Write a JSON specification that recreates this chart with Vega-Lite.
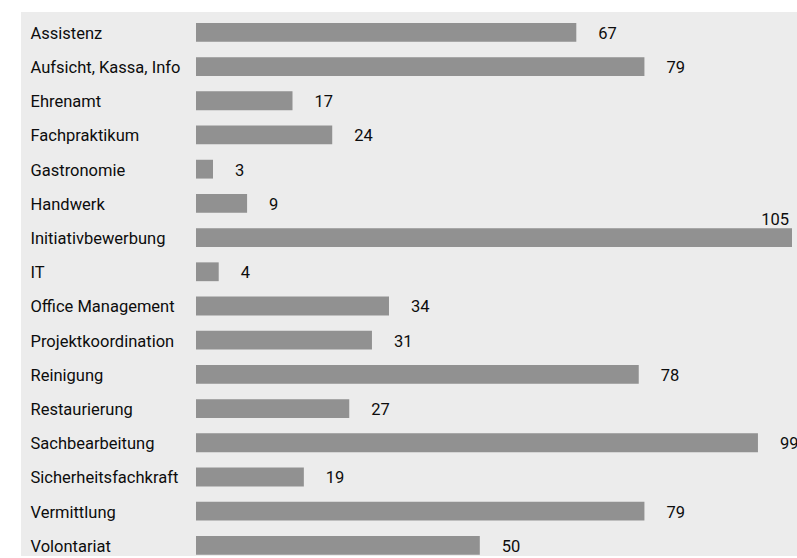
{
  "$schema": "https://vega.github.io/schema/vega-lite/v6.json",
  "width": 776,
  "height": 544,
  "autosize": {"type": "none"},
  "padding": {"left": 21, "top": 12, "right": 0, "bottom": 2},
  "background": "#ffffff",
  "config": {
    "view": {"fill": "#ececec", "stroke": null},
    "font": "Roboto"
  },
  "data": {
    "values": [
      {"kategorie": "Assistenz", "anzahl": 67},
      {"kategorie": "Aufsicht, Kassa, Info", "anzahl": 79},
      {"kategorie": "Ehrenamt", "anzahl": 17},
      {"kategorie": "Fachpraktikum", "anzahl": 24},
      {"kategorie": "Gastronomie", "anzahl": 3},
      {"kategorie": "Handwerk", "anzahl": 9},
      {"kategorie": "Initiativbewerbung", "anzahl": 105},
      {"kategorie": "IT", "anzahl": 4},
      {"kategorie": "Office Management", "anzahl": 34},
      {"kategorie": "Projektkoordination", "anzahl": 31},
      {"kategorie": "Reinigung", "anzahl": 78},
      {"kategorie": "Restaurierung", "anzahl": 27},
      {"kategorie": "Sachbearbeitung", "anzahl": 99},
      {"kategorie": "Sicherheitsfachkraft", "anzahl": 19},
      {"kategorie": "Vermittlung", "anzahl": 79},
      {"kategorie": "Volontariat", "anzahl": 50}
    ]
  },
  "encoding": {
    "y": {
      "field": "kategorie",
      "type": "nominal",
      "sort": null,
      "title": null,
      "scale": {"paddingInner": 0.45, "paddingOuter": 0.178, "align": 0.9},
      "axis": {
        "orient": "left",
        "domain": false,
        "ticks": false,
        "tickSize": 0,
        "grid": false,
        "labelAlign": "left",
        "labelPadding": -9,
        "labelOffset": 1.5,
        "labelFont": "Roboto",
        "labelFontSize": 16.5,
        "labelFontWeight": "normal",
        "labelColor": "#0d0d0d",
        "labelBaseline": "middle",
        "labelLimit": 300
      }
    }
  },
  "layer": [
    {
      "mark": {"type": "bar", "color": "#919191"},
      "encoding": {
        "x": {
          "field": "anzahl",
          "type": "quantitative",
          "title": null,
          "scale": {"domain": [-30.83, 105.88], "nice": false, "zero": false},
          "axis": null
        },
        "x2": {"datum": 0}
      }
    },
    {
      "transform": [{"filter": "datum.anzahl < 100"}],
      "mark": {"type": "text", "align": "left", "baseline": "middle", "dx": 22, "dy": 1.5, "fontSize": 16.5, "font": "Roboto", "color": "#0d0d0d"},
      "encoding": {
        "x": {"field": "anzahl", "type": "quantitative"},
        "text": {"field": "anzahl", "type": "quantitative"}
      }
    },
    {
      "transform": [{"filter": "datum.anzahl >= 100"}],
      "mark": {"type": "text", "align": "right", "baseline": "middle", "dx": -3, "dy": -18, "fontSize": 16.5, "font": "Roboto", "color": "#0d0d0d"},
      "encoding": {
        "x": {"field": "anzahl", "type": "quantitative"},
        "text": {"field": "anzahl", "type": "quantitative"}
      }
    }
  ]
}
